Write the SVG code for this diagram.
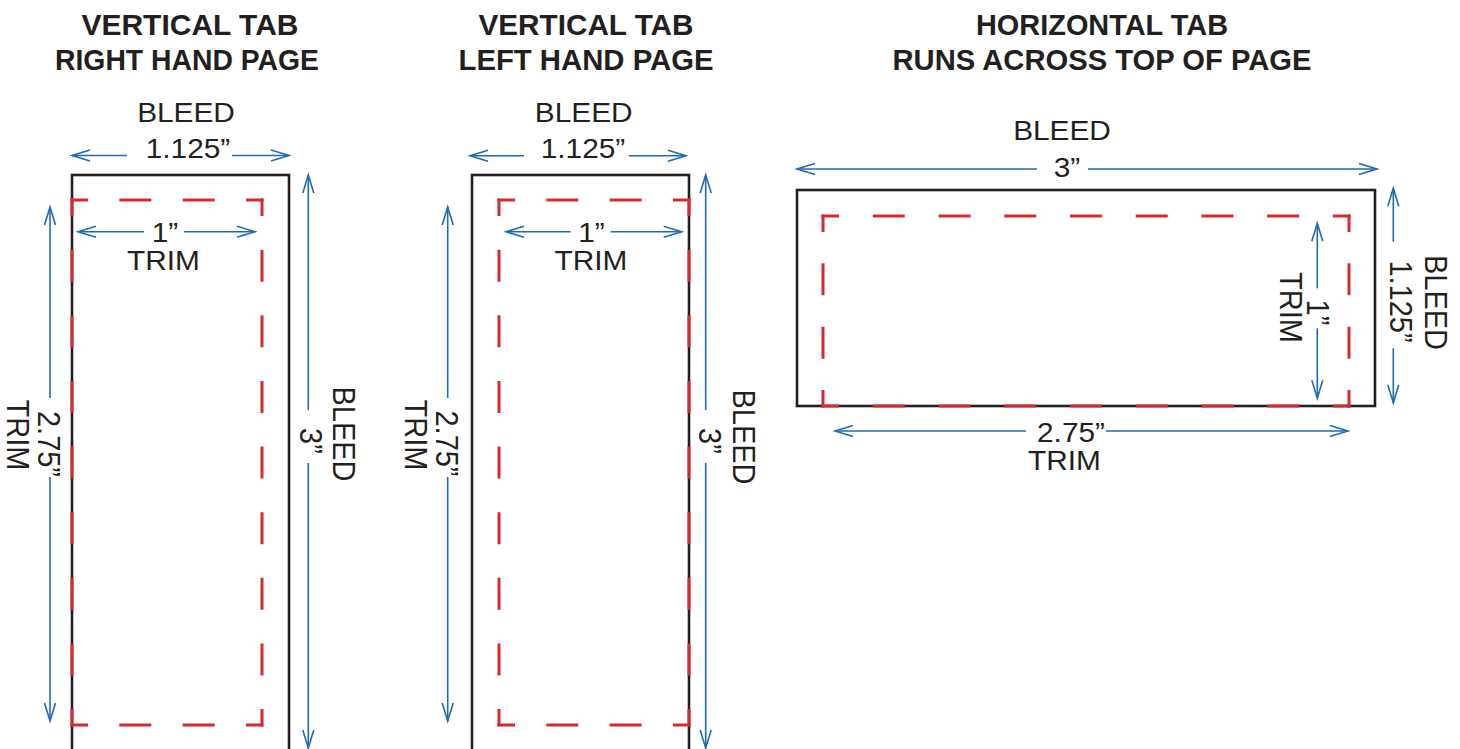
<svg xmlns="http://www.w3.org/2000/svg" width="1460" height="749" viewBox="0 0 1460 749">
<style>
.title{font-family:"Liberation Sans",Arial,sans-serif;font-weight:bold;font-size:30px;fill:#231f20;text-anchor:middle}
.lbl{font-family:"Liberation Sans",Arial,sans-serif;font-size:28px;fill:#231f20;text-anchor:middle}
.v{font-size:29px}
.bleed{fill:none;stroke:#231f20;stroke-width:2.6}
.trim{fill:none;stroke:#d42a30;stroke-width:3;stroke-linecap:butt;stroke-dashoffset:14.5}
.d190{stroke-dasharray:32 31.333}
.d525{stroke-dasharray:32 33.625}
.d526{stroke-dasharray:32 33.75}
.dim{fill:none;stroke:#1f6cb0;stroke-width:1.6;marker-end:url(#ah)}
</style>
<defs>
<marker id="ah" markerUnits="userSpaceOnUse" markerWidth="24" markerHeight="16" viewBox="-20 -8 24 16" refX="0" refY="0" orient="auto" overflow="visible">
<path d="M-18,-5.5 L0,0 L-18,5.5" fill="none" stroke="#1f6cb0" stroke-width="1.6"/>
</marker>
</defs>
<rect width="1460" height="749" fill="#ffffff"/>

<g id="titles">
<text class="title" x="190" y="35" textLength="217" lengthAdjust="spacingAndGlyphs">VERTICAL TAB</text>
<text class="title" x="187" y="70" textLength="264" lengthAdjust="spacingAndGlyphs">RIGHT HAND PAGE</text>
<text class="title" x="586" y="35" textLength="215" lengthAdjust="spacingAndGlyphs">VERTICAL TAB</text>
<text class="title" x="586" y="70" textLength="255" lengthAdjust="spacingAndGlyphs">LEFT HAND PAGE</text>
<text class="title" x="1102" y="35" textLength="252" lengthAdjust="spacingAndGlyphs">HORIZONTAL TAB</text>
<text class="title" x="1102" y="70" textLength="419" lengthAdjust="spacingAndGlyphs">RUNS ACROSS TOP OF PAGE</text>
</g>

<g id="tab-right-hand">
<rect class="bleed" x="72" y="175" width="217" height="590"/>
<line class="trim d190" x1="70.5" y1="200" x2="263.5" y2="200"/>
<line class="trim d190" x1="70.5" y1="725" x2="263.5" y2="725"/>
<line class="trim d525" x1="72" y1="198.5" x2="72" y2="726.5"/>
<line class="trim d525" x1="262" y1="198.5" x2="262" y2="726.5"/>
</g>

<g id="tab-left-hand">
<rect class="bleed" x="472" y="175" width="217" height="590"/>
<line class="trim d190" x1="497.5" y1="200" x2="690.5" y2="200"/>
<line class="trim d190" x1="497.5" y1="725" x2="690.5" y2="725"/>
<line class="trim d525" x1="499" y1="198.5" x2="499" y2="726.5"/>
<line class="trim d525" x1="689" y1="198.5" x2="689" y2="726.5"/>
</g>

<g id="tab-horizontal">
<rect class="bleed" x="797" y="190" width="578" height="216"/>
<line class="trim d526" x1="821.5" y1="216" x2="1350.5" y2="216"/>
<line class="trim d526" x1="821.5" y1="406" x2="1350.5" y2="406"/>
<line class="trim d190" x1="823" y1="214.5" x2="823" y2="407.5"/>
<line class="trim d190" x1="1349" y1="214.5" x2="1349" y2="407.5"/>
</g>

<g id="connectors">
<path class="dim" d="M127,155.5 L72,155.5"/>
<path class="dim" d="M232,155.5 L289,155.5"/>
<path class="dim" d="M144,231.7 L78,231.7"/>
<path class="dim" d="M184,231.7 L255,231.7"/>
<path class="dim" d="M50,398 L50,207"/>
<path class="dim" d="M50,477 L50,721"/>
<path class="dim" d="M308.3,410 L308.3,175"/>
<path class="dim" d="M308.3,463 L308.3,748"/>

<path class="dim" d="M524,155.7 L470,155.7"/>
<path class="dim" d="M629,155.7 L686,155.7"/>
<path class="dim" d="M570.7,231.7 L506,231.7"/>
<path class="dim" d="M610.7,231.7 L681.7,231.7"/>
<path class="dim" d="M447.7,398 L447.7,207"/>
<path class="dim" d="M447.7,477 L447.7,721"/>
<path class="dim" d="M705.7,410 L705.7,175"/>
<path class="dim" d="M705.7,463 L705.7,748"/>

<path class="dim" d="M1037,169 L797,169"/>
<path class="dim" d="M1088,169 L1377,169"/>
<path class="dim" d="M1393.3,241.7 L1393.3,188.3"/>
<path class="dim" d="M1393.3,348.3 L1393.3,402.7"/>
<path class="dim" d="M1317.3,288.3 L1317.3,223.3"/>
<path class="dim" d="M1317.3,328.3 L1317.3,398.3"/>
<path class="dim" d="M1026,431 L835,431"/>
<path class="dim" d="M1106,431 L1348,431"/>
</g>

<g id="labels-right-hand">
<text class="lbl" transform="translate(186,122) scale(1.065,1)">BLEED</text>
<text class="lbl" transform="translate(188,158) scale(1.065,1)">1.125”</text>
<text class="lbl" transform="translate(165,241.5) scale(1.065,1)">1”</text>
<text class="lbl" transform="translate(163.5,270) scale(1.065,1)">TRIM</text>
<text class="lbl v" transform="translate(38,444) scale(1.065,1) rotate(90)">2.75”</text>
<text class="lbl v" transform="translate(7,435) scale(1.065,1) rotate(90)">TRIM</text>
<text class="lbl v" transform="translate(300,441) scale(1.065,1) rotate(90)">3”</text>
<text class="lbl v" transform="translate(333,434) scale(1.065,1) rotate(90)">BLEED</text>
</g>

<g id="labels-left-hand">
<text class="lbl" transform="translate(583.7,122) scale(1.065,1)">BLEED</text>
<text class="lbl" transform="translate(583,158) scale(1.065,1)">1.125”</text>
<text class="lbl" transform="translate(591.5,241.5) scale(1.065,1)">1”</text>
<text class="lbl" transform="translate(591,270) scale(1.065,1)">TRIM</text>
<text class="lbl v" transform="translate(436,443.5) scale(1.065,1) rotate(90)">2.75”</text>
<text class="lbl v" transform="translate(405,435) scale(1.065,1) rotate(90)">TRIM</text>
<text class="lbl v" transform="translate(699,441) scale(1.065,1) rotate(90)">3”</text>
<text class="lbl v" transform="translate(733,437) scale(1.065,1) rotate(90)">BLEED</text>
</g>

<g id="labels-horizontal">
<text class="lbl" transform="translate(1062,140) scale(1.065,1)">BLEED</text>
<text class="lbl" transform="translate(1067,177) scale(1.065,1)">3”</text>
<text class="lbl v" transform="translate(1390,301.5) scale(1.065,1) rotate(90)">1.125”</text>
<text class="lbl v" transform="translate(1425,302.5) scale(1.065,1) rotate(90)">BLEED</text>
<text class="lbl v" transform="translate(1306.7,312.5) scale(1.065,1) rotate(90)">1”</text>
<text class="lbl v" transform="translate(1280,307.5) scale(1.065,1) rotate(90)">TRIM</text>
<text class="lbl" transform="translate(1071,441.7) scale(1.065,1)">2.75”</text>
<text class="lbl" transform="translate(1064.5,470) scale(1.065,1)">TRIM</text>
</g>
</svg>
